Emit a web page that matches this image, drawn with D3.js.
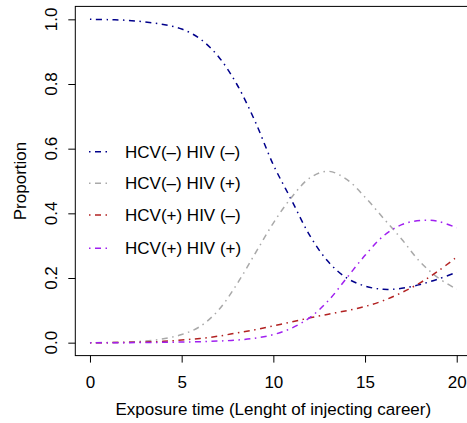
<!DOCTYPE html>
<html><head><meta charset="utf-8">
<script src="https://cdn.jsdelivr.net/npm/d3@7"></script>
<style>body{margin:0;background:#fff}svg{display:block}text{font-family:"Liberation Sans",Arial,Helvetica,sans-serif;fill:#000}</style>
</head><body><svg id="c" width="467" height="423"></svg>
<script>
const times = [0,1,2,3,4,5,6,7,8,9,10,11,12,13,14,15,16,17,18,19,20];
const hcvNegHivNeg = [1.0,0.999,0.997,0.992,0.984,0.97,0.94,0.885,0.8,0.685,0.55,0.44,0.33,0.25,0.2,0.175,0.165,0.168,0.18,0.197,0.218];
const hcvNegHivPos = [0,0.0005,0.002,0.005,0.012,0.025,0.05,0.1,0.18,0.275,0.37,0.45,0.51,0.53,0.505,0.45,0.385,0.32,0.25,0.2,0.165];
const hcvPosHivNeg = [0,0,0.001,0.002,0.004,0.008,0.013,0.02,0.03,0.04,0.052,0.064,0.077,0.088,0.099,0.112,0.13,0.155,0.185,0.222,0.265];
const hcvPosHivPos = [0,0,0,0.0005,0.001,0.002,0.003,0.005,0.008,0.014,0.025,0.045,0.078,0.13,0.2,0.27,0.33,0.365,0.378,0.375,0.355];
const seriesNames = ["HCV(\u2013) HIV (\u2013)","HCV(\u2013) HIV (+)","HCV(+) HIV (\u2013)","HCV(+) HIV (+)"];
const seriesColors = ["#00008B","#A9A9A9","#B22222","#A020F0"];
const xTicks = [0,5,10,15,20];
const yTicks = [0,0.2,0.4,0.6,0.8,1.0];
const xLabel = "Exposure time (Lenght of injecting career)";
const yLabel = "Proportion";

const svg = d3.select("#c");
const x = d3.scaleLinear().domain([-0.8,20.8]).range([75.3,471.4]);
const y = d3.scaleLinear().domain([-0.04,1.04]).range([355.6,6.4]);
const FS = "17px";

// box
svg.append("rect").attr("x",x(-0.8)).attr("y",y(1.04)).attr("width",x(20.8)-x(-0.8)).attr("height",y(-0.04)-y(1.04))
  .attr("fill","none").attr("stroke","#000").attr("stroke-width",1);

// x axis
const xa = svg.append("g").attr("transform",`translate(0,${y(-0.04)})`)
  .call(d3.axisBottom(x).tickValues(xTicks).tickSize(7).tickPadding(13).tickFormat(d3.format("d")));
xa.select(".domain").remove();
xa.selectAll("text").style("font-size",FS).style("font-family","Liberation Sans, Arial, sans-serif").attr("fill","#000");

// y axis
const ya = svg.append("g").attr("transform",`translate(${x(-0.8)},0)`)
  .call(d3.axisLeft(y).tickValues(yTicks).tickSize(7).tickFormat(d3.format(".1f")));
ya.select(".domain").remove();
ya.selectAll("text").remove();
svg.append("g").selectAll("text").data(yTicks).join("text")
  .attr("transform",d=>`translate(57,${y(d)}) rotate(-90)`).attr("text-anchor","middle")
  .style("font-size",FS).text(d=>d3.format(".1f")(d));

// labels
svg.append("text").attr("x",(x(-0.8)+x(20.8))/2).attr("y",415).attr("text-anchor","middle").style("font-size",FS).text(xLabel);
svg.append("text").attr("transform",`translate(26,${(y(-0.04)+y(1.04))/2}) rotate(-90)`).attr("text-anchor","middle").style("font-size",FS).text(yLabel);

// lines
const allSeries = [hcvNegHivNeg,hcvNegHivPos,hcvPosHivNeg,hcvPosHivPos];
const line = d3.line().x((d,i)=>x(times[i])).y(d=>y(d)).curve(d3.curveCatmullRom.alpha(0.5));
const dash = "1.5,4.5,6,4.5";
allSeries.forEach((s,k)=>{
  svg.append("path").attr("d",line(s)).attr("fill","none").attr("stroke",seriesColors[k])
    .attr("stroke-width",1.5).attr("stroke-dasharray",dash);
});

// legend
const legY = [151.7,183.3,215,248.3];
seriesNames.forEach((n,k)=>{
  svg.append("line").attr("x1",89).attr("x2",111).attr("y1",legY[k]).attr("y2",legY[k])
    .attr("stroke",seriesColors[k]).attr("stroke-width",1.5).attr("stroke-dasharray",dash);
  svg.append("text").attr("x",125).attr("y",legY[k]).attr("dy","0.36em").style("font-size",FS).text(n);
});
</script></body></html>
